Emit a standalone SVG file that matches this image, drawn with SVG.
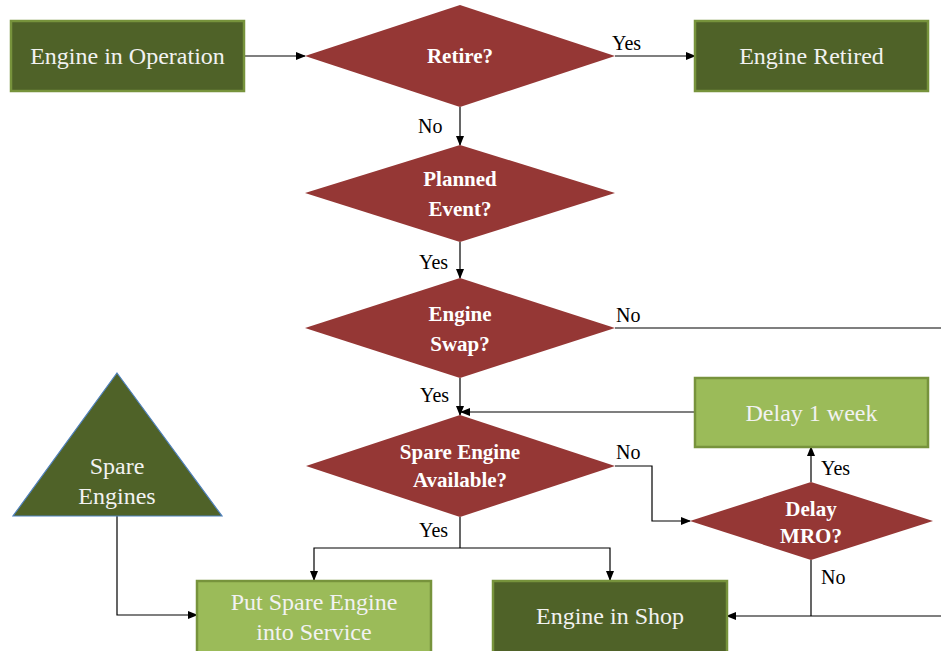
<svg xmlns="http://www.w3.org/2000/svg" width="941" height="651" viewBox="0 0 941 651">
  <defs>
    <marker id="arrow" markerWidth="10" markerHeight="8" refX="9" refY="4" orient="auto" markerUnits="userSpaceOnUse">
      <path d="M0,0 L10,4 L0,8 Z" fill="#000"/>
    </marker>
    <style>
      .dark { fill: #4f6228; stroke: #77933c; stroke-width: 2.5; }
      .light { fill: #9bbb59; stroke: #77933c; stroke-width: 2.5; }
      .dec { fill: #953735; stroke: none; }
      .tri { fill: #4f6228; stroke: #4f81bd; stroke-width: 1.2; }
      .ntext { font-size: 24px; fill: #f2f2f2; text-anchor: middle; }
      .dtext { font-size: 21px; font-weight: bold; fill: #ffffff; text-anchor: middle; }
      .lbl { font-size: 20px; fill: #000; }
      .conn { fill: none; stroke: #000; stroke-width: 1.2; }
    </style>
  </defs>

  <rect width="941" height="651" fill="#ffffff"/>

  <g font-family="Liberation Serif, Times New Roman, serif">
  <!-- connectors -->
  <g id="connectors">
    <path class="conn" d="M244,56 H305" marker-end="url(#arrow)"/>
    <path class="conn" d="M615,56 H695" marker-end="url(#arrow)"/>
    <path class="conn" d="M460,107 V145" marker-end="url(#arrow)"/>
    <path class="conn" d="M460,242 V278" marker-end="url(#arrow)"/>
    <path class="conn" d="M615,328 H941"/>
    <path class="conn" d="M460,378 V415" marker-end="url(#arrow)"/>
    <path class="conn" d="M695,412 H461" marker-end="url(#arrow)"/>
    <path class="conn" d="M615,466 H652 V521 H690" marker-end="url(#arrow)"/>
    <path class="conn" d="M811,482 V447" marker-end="url(#arrow)"/>
    <path class="conn" d="M811,560 V616"/>
    <path class="conn" d="M941,616 H727" marker-end="url(#arrow)"/>
    <path class="conn" d="M460,517 V548"/>
    <path class="conn" d="M460,548 H314 V580" marker-end="url(#arrow)"/>
    <path class="conn" d="M460,548 H610 V580" marker-end="url(#arrow)"/>
    <path class="conn" d="M117,516 V615 H197" marker-end="url(#arrow)"/>

    <text class="lbl" x="612" y="50">Yes</text>
    <text class="lbl" x="418" y="133">No</text>
    <text class="lbl" x="419" y="269">Yes</text>
    <text class="lbl" x="616" y="322">No</text>
    <text class="lbl" x="420" y="402">Yes</text>
    <text class="lbl" x="616" y="459">No</text>
    <text class="lbl" x="419" y="537">Yes</text>
    <text class="lbl" x="821" y="475">Yes</text>
    <text class="lbl" x="821" y="584">No</text>
  </g>

  <g id="engine-in-operation">
    <rect class="dark" x="11" y="21" width="233" height="70"/>
    <text class="ntext" x="127.5" y="64">Engine in Operation</text>
  </g>

  <g id="retire">
    <polygon class="dec" points="460,5 615,56 460,107 305,56"/>
    <text class="dtext" x="460" y="63">Retire?</text>
  </g>

  <g id="engine-retired">
    <rect class="dark" x="695" y="21" width="233" height="70"/>
    <text class="ntext" x="811.5" y="64">Engine Retired</text>
  </g>

  <g id="planned-event">
    <polygon class="dec" points="460,145 615,193 460,242 305,193"/>
    <text class="dtext" x="460" y="186">Planned</text>
    <text class="dtext" x="460" y="216">Event?</text>
  </g>

  <g id="engine-swap">
    <polygon class="dec" points="460,278 615,328 460,378 305,328"/>
    <text class="dtext" x="460" y="321">Engine</text>
    <text class="dtext" x="460" y="351">Swap?</text>
  </g>

  <g id="spare-engine-available">
    <polygon class="dec" points="460,415 615,466 460,517 306,466"/>
    <text class="dtext" x="460" y="459">Spare Engine</text>
    <text class="dtext" x="460" y="487">Available?</text>
  </g>

  <g id="delay-1-week">
    <rect class="light" x="695" y="378" width="233" height="69"/>
    <text class="ntext" x="811.5" y="421">Delay 1 week</text>
  </g>

  <g id="delay-mro">
    <polygon class="dec" points="811,482 933,521 811,560 690,521"/>
    <text class="dtext" x="811" y="516">Delay</text>
    <text class="dtext" x="811" y="543">MRO?</text>
  </g>

  <g id="spare-engines">
    <polygon class="tri" points="117,373 222,516 13,516"/>
    <text class="ntext" x="117" y="474">Spare</text>
    <text class="ntext" x="117" y="504">Engines</text>
  </g>

  <g id="put-spare-engine-into-service">
    <rect class="light" x="197" y="581" width="234" height="72"/>
    <text class="ntext" x="314" y="610">Put Spare Engine</text>
    <text class="ntext" x="314" y="640">into Service</text>
  </g>

  <g id="engine-in-shop">
    <rect class="dark" x="493" y="581" width="234" height="72"/>
    <text class="ntext" x="610" y="624">Engine in Shop</text>
  </g>
  </g>
</svg>
